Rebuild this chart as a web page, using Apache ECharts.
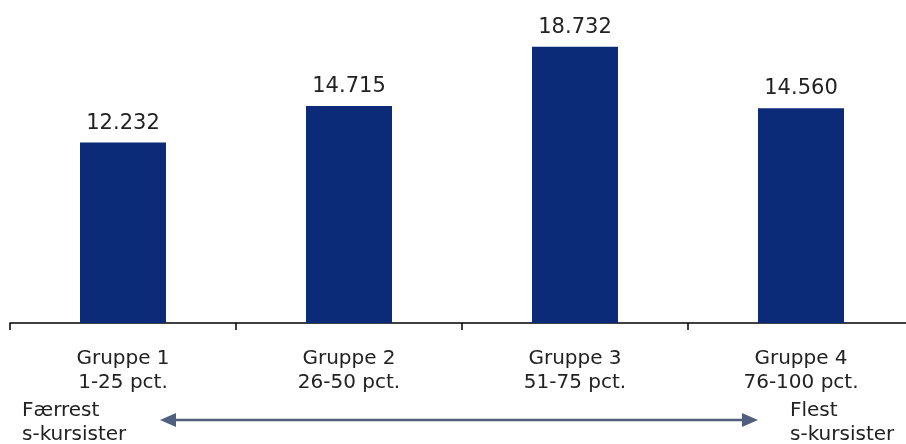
<!DOCTYPE html>
<html>
<head>
<meta charset="utf-8">
<script src="https://cdn.jsdelivr.net/npm/echarts@6/dist/echarts.min.js"></script>
<style>
  html, body { margin: 0; padding: 0; background: #fff; }
  #chart { width: 906px; height: 444px; }
</style>
</head>
<body>
<div id="chart"></div>
<script>
var groups = ['Gruppe 1', 'Gruppe 2', 'Gruppe 3', 'Gruppe 4'];
var shares = ['1-25 pct.', '26-50 pct.', '51-75 pct.', '76-100 pct.'];
var values = [12232, 14715, 18732, 14560];

var categories = groups.map(function (g, i) { return g + '\n' + shares[i]; });

var chart = echarts.init(document.getElementById('chart'));

chart.setOption({
  animation: false,
  textStyle: { fontFamily: 'DejaVu Sans' },
  grid: { left: 10, width: 904, top: 0, bottom: 121, outerBoundsMode: 'none', containLabel: false },
  xAxis: {
    type: 'category',
    data: categories,
    axisLine: { lineStyle: { color: '#000', width: 1.5 } },
    axisTick: { show: true, length: 7, lineStyle: { color: '#000', width: 1.5 } },
    axisLabel: {
      color: '#222',
      fontSize: 20,
      lineHeight: 24,
      margin: 24,
      interval: 0
    }
  },
  yAxis: {
    type: 'value',
    min: 0,
    max: 21900,
    show: false,
    splitLine: { show: false }
  },
  series: [{
    type: 'bar',
    data: values,
    barWidth: 86,
    itemStyle: { color: '#0b2a78' },
    label: {
      show: true,
      position: 'top',
      distance: 9,
      color: '#222',
      fontSize: 21,
      fontFamily: 'DejaVu Sans',
      formatter: function (p) {
        return String(p.value).replace(/\B(?=(\d{3})+(?!\d))/g, '.');
      }
    }
  }],
  graphic: [
    {
      type: 'line',
      shape: { x1: 170, y1: 420, x2: 748, y2: 420 },
      style: { stroke: '#4f5f7c', lineWidth: 2.5 }
    },
    {
      type: 'polygon',
      shape: { points: [[160, 420], [176, 413], [176, 427]] },
      style: { fill: '#4f5f7c' }
    },
    {
      type: 'polygon',
      shape: { points: [[758, 420], [742, 413], [742, 427]] },
      style: { fill: '#4f5f7c' }
    },
    {
      type: 'text',
      left: 22,
      top: 399,
      style: { text: 'Færrest\ns-kursister', fontSize: 20, lineHeight: 24, fill: '#222', fontFamily: 'DejaVu Sans' }
    },
    {
      type: 'text',
      left: 790,
      top: 399,
      style: { text: 'Flest\ns-kursister', fontSize: 20, lineHeight: 24, fill: '#222', fontFamily: 'DejaVu Sans' }
    }
  ]
});
</script>
</body>
</html>
